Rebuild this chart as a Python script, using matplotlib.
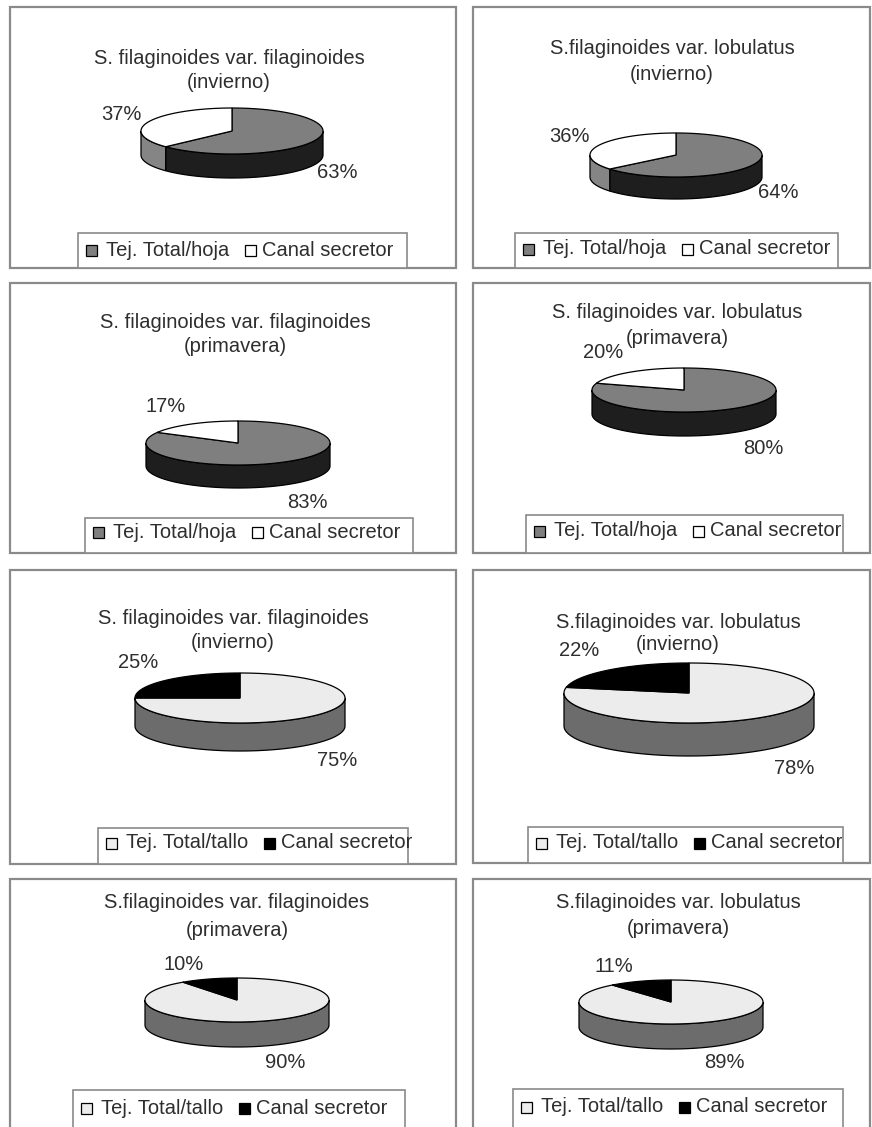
import numpy as np
import matplotlib
matplotlib.use("Agg")
from matplotlib import pyplot as plt
from matplotlib.patches import Polygon, Rectangle

plt.rcParams['font.family'] = ['Liberation Sans', 'DejaVu Sans']

# data, one entry per panel (left->right, top->bottom)
titles = ["S. filaginoides var. filaginoides", "S.filaginoides var. lobulatus",
          "S. filaginoides var. filaginoides", "S. filaginoides var. lobulatus",
          "S. filaginoides var. filaginoides", "S.filaginoides var. lobulatus",
          "S.filaginoides var. filaginoides", "S.filaginoides var. lobulatus"]
seasons = ["(invierno)", "(invierno)", "(primavera)", "(primavera)",
           "(invierno)", "(invierno)", "(primavera)", "(primavera)"]
total_pct = [63, 64, 83, 80, 75, 78, 90, 89]
canal_pct = [37, 36, 17, 20, 25, 22, 10, 11]
organ = ["hoja", "hoja", "hoja", "hoja", "tallo", "tallo", "tallo", "tallo"]

# layout (pixels)
boxes = [(10, 7, 456, 268), (473, 7, 870, 268),
         (10, 283, 456, 553), (473, 283, 870, 553),
         (10, 570, 456, 864), (473, 570, 870, 863),
         (10, 879, 456, 1140), (473, 879, 870, 1140)]
title_pos = [(229, 58, 82), (672, 49, 75), (235, 322, 347), (677, 313, 338),
             (233, 618, 642), (678, 622, 645), (237, 903, 930), (678, 902, 928)]
pie_geo = [(232, 131, 91, 23, 24), (676, 155, 86, 22, 22),
           (238, 443, 92, 22, 23), (684, 390, 92, 22, 24),
           (240, 698, 105, 25, 28), (689, 693, 125, 30, 33),
           (237, 1000, 92, 22, 25), (671, 1002, 92, 22, 25)]
canal_lab = [(121, 115), (569, 136), (166, 406), (603, 353),
             (138, 663), (579, 650), (184, 965), (614, 967)]
total_lab = [(337, 172), (778, 192), (307, 502), (763, 448),
             (337, 760), (794, 768), (285, 1062), (724, 1063)]
leg_geo = [(78, 407, 233, 250), (515, 838, 233, 249),
           (85, 413, 518, 532), (526, 843, 515, 531),
           (98, 408, 828, 843), (528, 843, 827, 843),
           (73, 405, 1090, 1108), (513, 843, 1089, 1107)]

# colours: (top, side) per series
hoja_cols = [("#7f7f7f", "#1e1e1e"), ("#ffffff", "#858585")]
tallo_cols = [("#ececec", "#6c6c6c"), ("#000000", "#000000")]

txt_col = "#2e2e2e"
fs = 14.5

fig = plt.figure(figsize=(8.72, 11.27), dpi=100)
ax = fig.add_axes([0, 0, 1, 1])
ax.set_xlim(0, 872)
ax.set_ylim(1127, 0)
ax.axis('off')


def pie3d(cx, cy, rx, ry, depth, values, cols):
    fracs = np.array(values, float) / np.sum(values)
    start = 90.0
    bounds = []
    for f in fracs:
        end = start - 360.0 * f
        bounds.append((end, start))
        start = end
    # side walls (front half only)
    for (a0, a1), (tc, sc) in zip(bounds, cols):
        for lo, hi in [(-180, 0), (180, 360), (-540, -360)]:
            s = max(a0, lo)
            e = min(a1, hi)
            if e > s:
                th = np.radians(np.linspace(s, e, 80))
                xs = cx + rx * np.cos(th)
                ys = cy - ry * np.sin(th)
                pts = np.column_stack([np.r_[xs, xs[::-1]],
                                       np.r_[ys, ys[::-1] + depth]])
                ax.add_patch(Polygon(pts, closed=True, fc=sc, ec='black',
                                     lw=0.9, zorder=3))
    # top faces
    for (a0, a1), (tc, sc) in zip(bounds, cols):
        th = np.radians(np.linspace(a0, a1, 150))
        pts = np.column_stack([np.r_[cx, cx + rx * np.cos(th)],
                               np.r_[cy, cy - ry * np.sin(th)]])
        ax.add_patch(Polygon(pts, closed=True, fc=tc, ec='black', lw=0.9,
                             zorder=4))


renderer = fig.canvas.get_renderer()
inv = ax.transData.inverted()


def text_right_edge(t):
    bb = t.get_window_extent(renderer)
    return inv.transform((bb.x1, bb.y0))[0]


for i in range(8):
    x0, y0, x1, y1 = boxes[i]
    ax.add_patch(Rectangle((x0, y0), x1 - x0, y1 - y0, fc='white',
                           ec='#8a8a8a', lw=1.6, zorder=1))
    tx, ty1, ty2 = title_pos[i]
    ax.text(tx, ty1, titles[i], ha='center', va='center', fontsize=fs,
            color=txt_col, zorder=5)
    ax.text(tx, ty2, seasons[i], ha='center', va='center', fontsize=fs,
            color=txt_col, zorder=5)

    cols = hoja_cols if organ[i] == "hoja" else tallo_cols
    cx, cy, rx, ry, d = pie_geo[i]
    pie3d(cx, cy, rx, ry, d, [total_pct[i], canal_pct[i]], cols)

    ax.text(*canal_lab[i], f"{canal_pct[i]}%", ha='center', va='center',
            fontsize=fs, color=txt_col, zorder=5)
    ax.text(*total_lab[i], f"{total_pct[i]}%", ha='center', va='center',
            fontsize=fs, color=txt_col, zorder=5)

    # legend
    lx0, lx1, ltop, ly = leg_geo[i]
    ax.add_patch(Rectangle((lx0, ltop), lx1 - lx0, y1 - ltop, fc='white',
                           ec='#8a8a8a', lw=1.2, zorder=2))
    names = ["Tej. Total/" + organ[i], "Canal secretor"]
    sq = 11
    x = lx0 + 8
    for k, name in enumerate(names):
        ax.add_patch(Rectangle((x, ly - sq / 2), sq, sq, fc=cols[k][0],
                               ec='black', lw=0.9, zorder=5))
        t = ax.text(x + sq + (9 if k == 0 else 6), ly, name, ha='left',
                    va='center', fontsize=fs, color=txt_col, zorder=5)
        x = text_right_edge(t) + 16

fig.savefig("out.png", dpi=100, facecolor='white')
